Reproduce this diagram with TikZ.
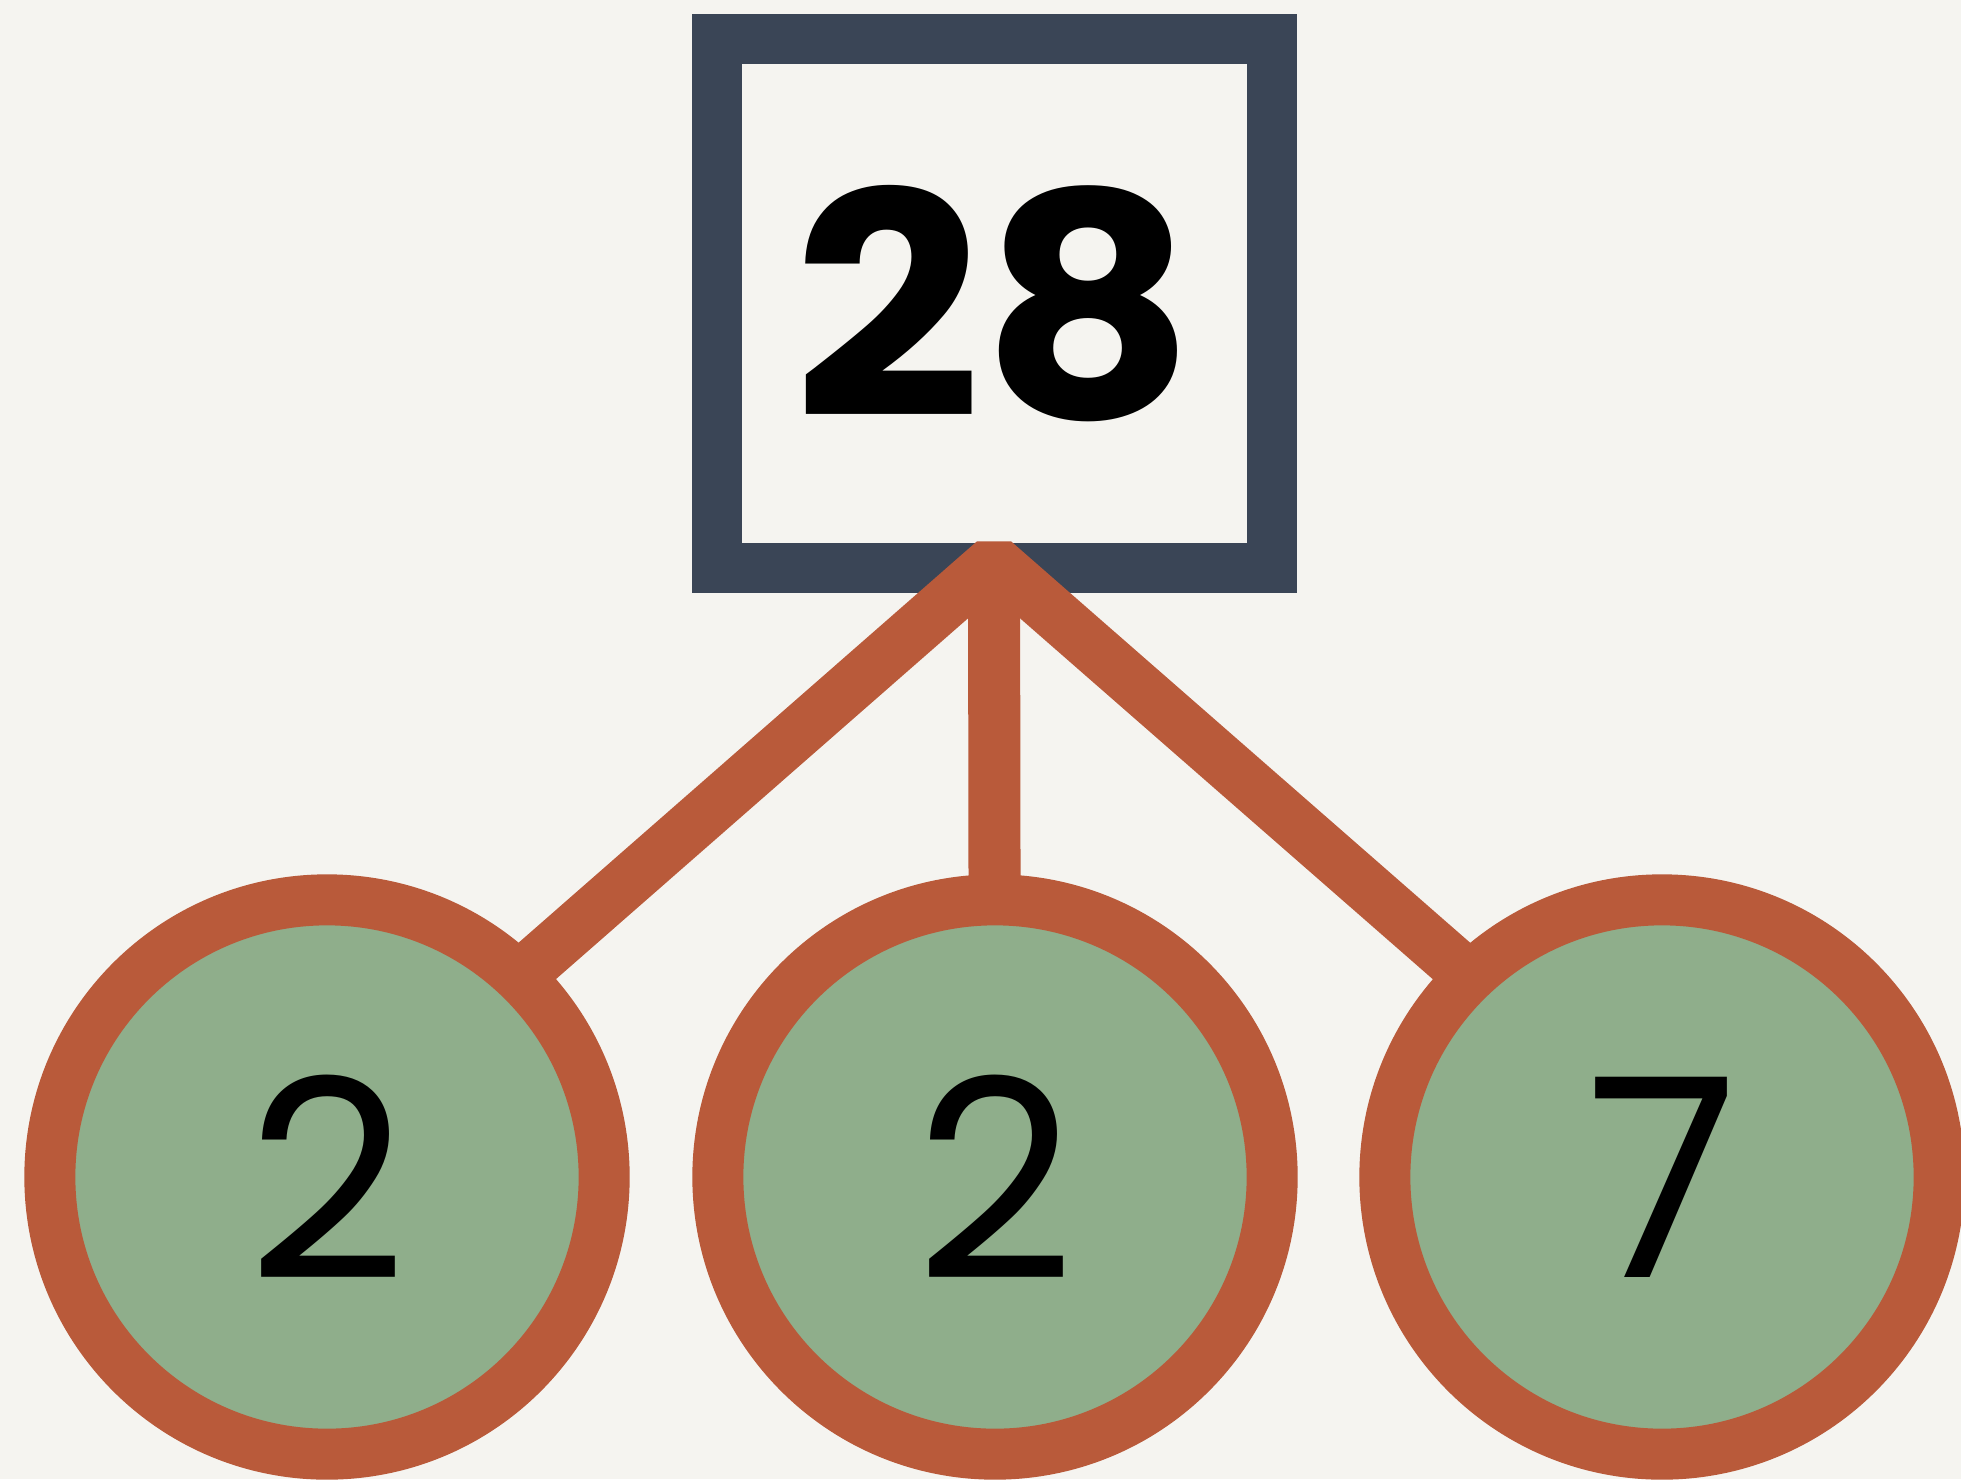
\documentclass[tikz,border=0pt]{standalone}
\usepackage{fontspec}
\setmainfont{Poppins}
\newfontfamily\widebold[FakeStretch=1.06]{Poppins}
\definecolor{bgc}{HTML}{F5F4F0}
\definecolor{slate}{HTML}{3A4556}
\definecolor{rust}{HTML}{B95A3A}
\definecolor{sage}{HTML}{8FAE8B}
\tikzset{
  rootbox/.style={draw=slate, line width=0.5cm, fill=bgc, rectangle, minimum width=5.55cm, minimum height=5.29cm, inner sep=0pt, font=\widebold\fontsize{88.5pt}{88.5pt}\selectfont\bfseries},
  factor/.style={draw=rust, line width=0.51cm, fill=sage, circle, minimum size=5.54cm, inner sep=0pt, font=\fontsize{79pt}{79pt}\selectfont},
  branch/.style={draw=rust, line width=0.52cm, line join=bevel, line cap=butt}
}
\begin{document}
\begin{tikzpicture}[x=0.01cm, y=-0.01cm]
\fill[bgc] (0,0) rectangle (1961,1479);
\useasboundingbox (0,0) rectangle (1961,1479);
\node[rootbox] (root) at (994.5,303.5) {28};
\coordinate (apex) at (994,561);
\coordinate (c1) at (327,1177);
\coordinate (c2) at (995,1177);
\coordinate (c3) at (1662,1177);
\coordinate (aimL) at (327,1145);
\coordinate (aimR) at (1662,1145);
\draw[branch] (aimL) -- (apex) -- (aimR);
\draw[branch] (apex) -- (c2);
\node[factor] (f1) at (c1) {2};
\node[factor] (f2) at (c2) {2};
\node[factor] (f3) at (c3) {7};
\end{tikzpicture}
\end{document}
